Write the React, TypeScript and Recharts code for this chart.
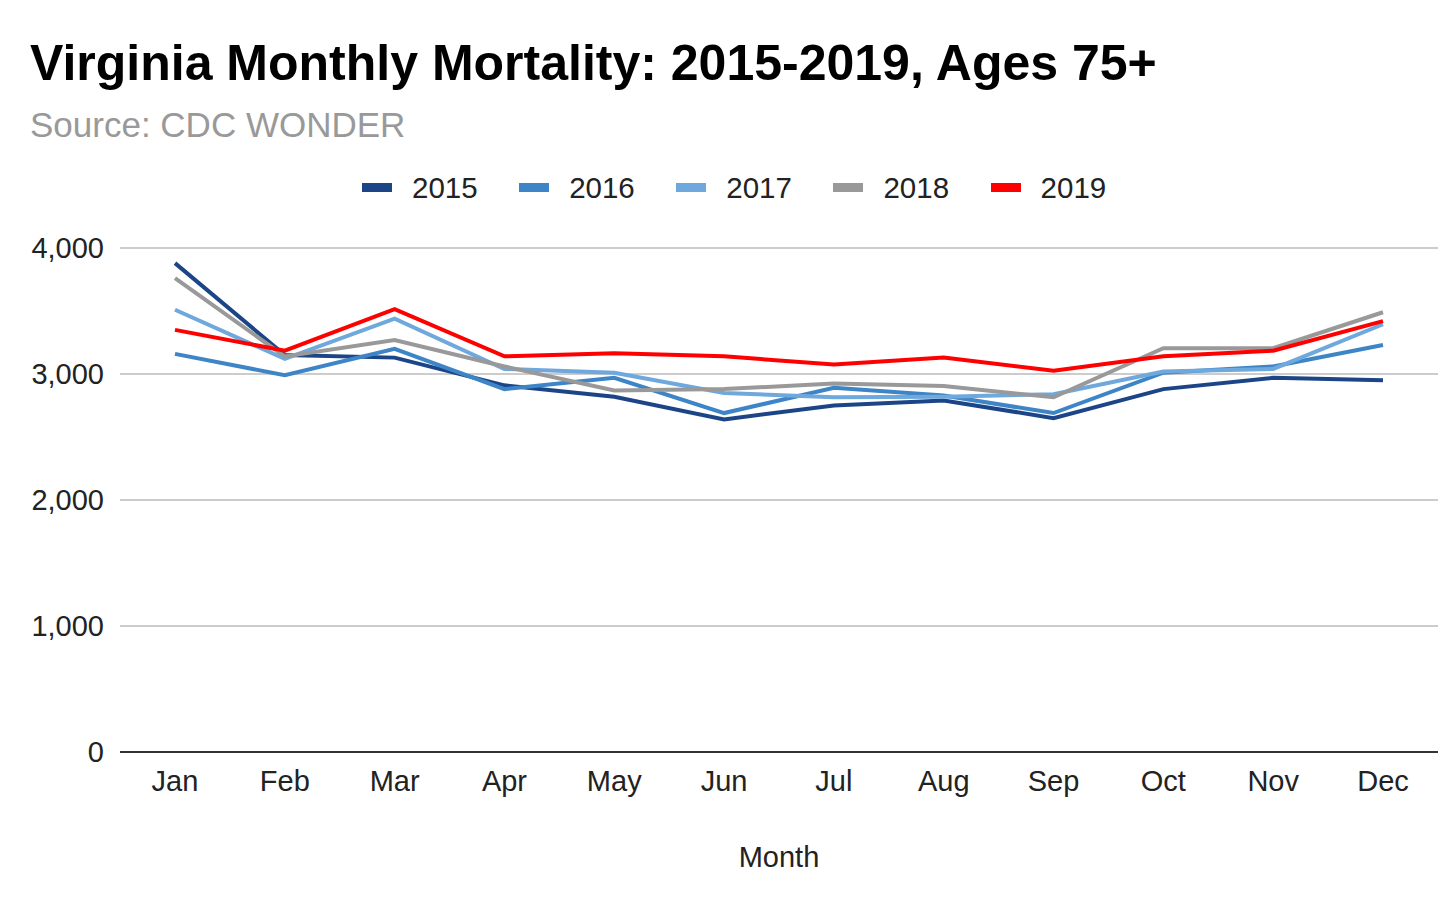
import { LineChart, Line, XAxis, YAxis, CartesianGrid } from "recharts";

const months = ["Jan", "Feb", "Mar", "Apr", "May", "Jun", "Jul", "Aug", "Sep", "Oct", "Nov", "Dec"];

const y2015 = [3880, 3150, 3130, 2910, 2820, 2640, 2750, 2790, 2650, 2880, 2970, 2950];
const y2016 = [3160, 2990, 3200, 2880, 2970, 2690, 2890, 2830, 2690, 3010, 3060, 3230];
const y2017 = [3510, 3120, 3440, 3040, 3010, 2850, 2815, 2820, 2840, 3020, 3040, 3395];
const y2018 = [3760, 3140, 3270, 3060, 2870, 2880, 2925, 2905, 2815, 3205, 3205, 3490];
const y2019 = [3350, 3185, 3515, 3140, 3165, 3140, 3075, 3130, 3025, 3140, 3185, 3420];

const yTicks = [0, 1000, 2000, 3000, 4000];

const series = [
  { key: "2015", color: "#1c4587" },
  { key: "2016", color: "#3d85c6" },
  { key: "2017", color: "#6fa8dc" },
  { key: "2018", color: "#999999" },
  { key: "2019", color: "#ff0000" },
];

const data = months.map((month, i) => ({
  month,
  "2015": y2015[i],
  "2016": y2016[i],
  "2017": y2017[i],
  "2018": y2018[i],
  "2019": y2019[i],
}));

const FONT = '"Liberation Sans", Arial, sans-serif';

export default function App() {
  return (
    <div style={{ position: "absolute", left: 0, top: 0, width: 1452, height: 908, background: "#fff", fontFamily: FONT }}>
      <div style={{ position: "absolute", left: 30, top: 38, fontSize: 50, lineHeight: 1, fontWeight: 700, color: "#000", whiteSpace: "nowrap" }}>
        Virginia Monthly Mortality: 2015-2019, Ages 75+
      </div>
      <div style={{ position: "absolute", left: 30, top: 107, fontSize: 35, lineHeight: 1, color: "#999", whiteSpace: "nowrap" }}>
        Source: CDC WONDER
      </div>

      {/* legend */}
      <div style={{ position: "absolute", left: 362, top: 173, display: "flex", alignItems: "center", fontSize: 29.5, lineHeight: 1, color: "#222" }}>
        {series.map((s) => (
          <span key={s.key} style={{ display: "flex", alignItems: "center", marginRight: 41.5 }}>
            <span style={{ width: 30, height: 9, background: s.color, marginRight: 20 }} />
            {s.key}
          </span>
        ))}
      </div>

      <LineChart width={1452} height={908} data={data} margin={{ top: 248, right: 14, bottom: 20, left: 0 }}>
        <CartesianGrid vertical={false} stroke="#cccccc" strokeWidth={2} />
        <XAxis
          dataKey="month"
          height={136}
          padding={{ left: 55, right: 55 }}
          axisLine={{ stroke: "#333", strokeWidth: 2 }}
          tickLine={false}
          tickSize={0}
          tickMargin={18}
          tick={{ fontSize: 29, fill: "#222", fontFamily: FONT }}
          label={{ value: "Month", position: "insideBottom", offset: 21, fontSize: 29, fill: "#222", fontFamily: FONT }}
        />
        <YAxis
          width={120}
          domain={[0, 4000]}
          ticks={yTicks}
          axisLine={false}
          tickLine={false}
          tickSize={0}
          tickMargin={16}
          tickFormatter={(v) => v.toLocaleString("en-US")}
          tick={{ fontSize: 29, fill: "#222", fontFamily: FONT }}
        />
        {series.map((s) => (
          <Line
            key={s.key}
            type="linear"
            dataKey={s.key}
            stroke={s.color}
            strokeWidth={4}
            dot={false}
            activeDot={false}
            isAnimationActive={false}
          />
        ))}
      </LineChart>
    </div>
  );
}
